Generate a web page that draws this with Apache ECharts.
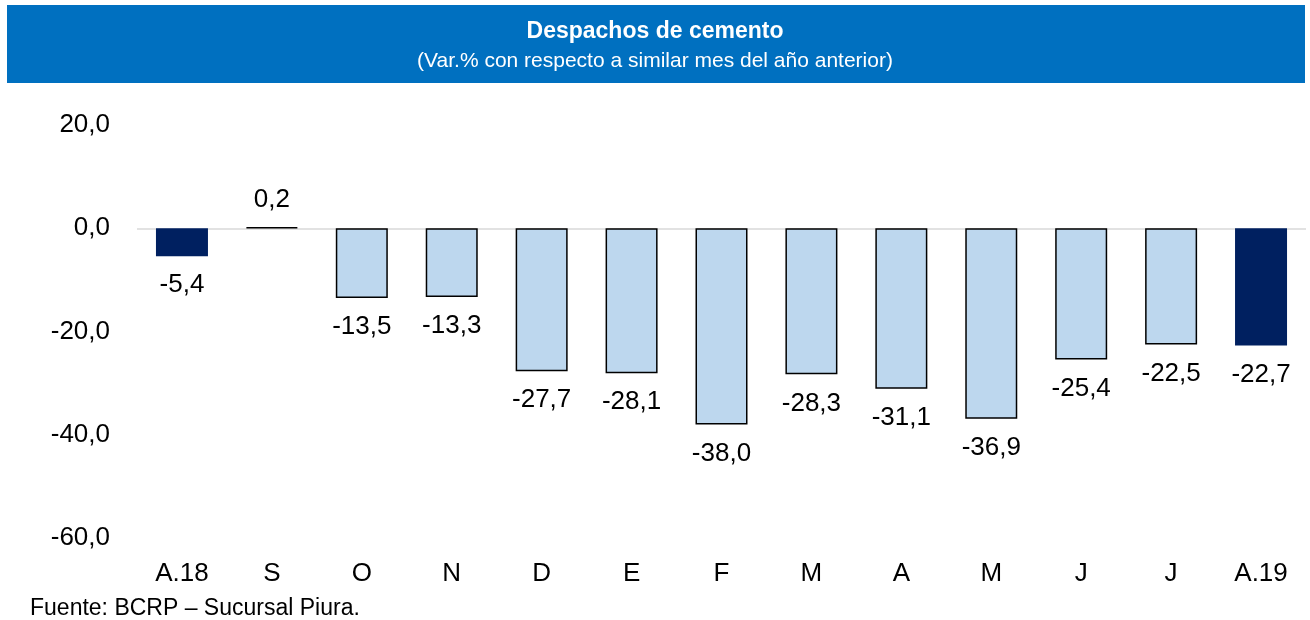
<!DOCTYPE html>
<html><head><meta charset="utf-8">
<script src="https://cdn.jsdelivr.net/npm/echarts@6/dist/echarts.min.js"></script>
<style>html,body{margin:0;padding:0;background:#fff}#c{width:1310px;height:620px}</style>
</head><body><div id="c"></div>
<script>
var categories = ['A.18','S','O','N','D','E','F','M','A','M','J','J','A.19'];
var values = [-5.4, 0.2, -13.5, -13.3, -27.7, -28.1, -38.0, -28.3, -31.1, -36.9, -25.4, -22.5, -22.7];
var highlighted = [true, false, false, false, false, false, false, false, false, false, false, false, true];
var yTicks = {min: -60, max: 20, interval: 20};

var FONT = '"Liberation Sans", Arial, sans-serif';
function fmt(v){ return v.toFixed(1).replace('.', ','); }

var data = values.map(function(v, i){
  return {
    value: v,
    itemStyle: highlighted[i] ? {color:'#002060', borderWidth:0} : {color:'#BDD7EE', borderColor:'#000', borderWidth:1.5},
    label: {position: v < 0 ? 'bottom' : 'top', distance: v < 0 ? 16 : 14}
  };
});

var chart = echarts.init(document.getElementById('c'));
chart.setOption({
  animation: false,
  backgroundColor: '#fff',
  graphic: [
    {type:'rect', left:7, top:5, shape:{width:1298, height:78}, style:{fill:'#0070C0'}, z:0},
    {type:'text', left:'center', top:20, style:{text:'Despachos de cemento', fill:'#fff', font:'bold 23px '+FONT}, z:1},
    {type:'text', left:'center', top:51, style:{text:'(Var.% con respecto a similar mes del año anterior)', fill:'#fff', font:'21px '+FONT}, z:1},
    {type:'text', left:30, top:597, style:{text:'Fuente: BCRP – Sucursal Piura.', fill:'#000', font:'23px '+FONT}, z:1}
  ],
  grid: {left:137, right:4, top:125, bottom:82},
  xAxis: {
    type:'category', data: categories,
    axisLine:{show:false, onZero:false}, axisTick:{show:false},
    axisLabel:{color:'#000', fontSize:26, fontFamily:FONT, margin:23}
  },
  yAxis: {
    type:'value', min:yTicks.min, max:yTicks.max, interval:yTicks.interval,
    splitLine:{show:false}, axisLine:{show:false}, axisTick:{show:false},
    axisLabel:{color:'#000', fontSize:26, fontFamily:FONT, margin:27, formatter: fmt}
  },
  series: [{
    type:'bar', data: data, barWidth:52,
    label:{show:true, color:'#000', fontSize:26, fontFamily:FONT, formatter:function(p){return fmt(p.value);}},
    markLine:{silent:true, symbol:'none', label:{show:false}, lineStyle:{color:'#D9D9D9', width:1.5, type:'solid'}, data:[{yAxis:0}], z:1}
  }]
});
</script></body></html>
